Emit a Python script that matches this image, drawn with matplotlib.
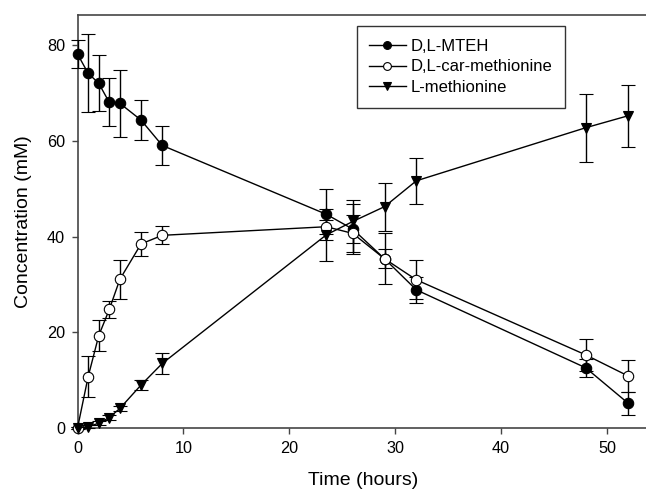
import matplotlib
matplotlib.use("Agg")
import matplotlib.pyplot as plt

# время отбора проб, ч
time = [0, 1, 2, 3, 4, 6, 8, 23.5, 26, 29, 32, 48, 52]

# D,L-MTEH
mteh = [78.2, 74.2, 72.1, 68.1, 67.9, 64.4, 59.1, 44.7, 41.6, 35.4, 28.9, 12.6, 5.2]
mteh_err = [3.0, 8.2, 5.9, 5.0, 7.0, 4.2, 4.1, 5.3, 5.2, 5.3, 2.7, 1.9, 2.4]

# D,L-car-methionine
car = [0.0, 10.7, 19.3, 24.8, 31.1, 38.5, 40.3, 42.1, 40.7, 35.4, 31.0, 15.3, 10.9]
car_err = [0.3, 4.3, 3.2, 1.7, 4.1, 2.5, 1.9, 1.5, 3.9, 2.0, 4.1, 3.3, 3.3]

# L-methionine
lmet = [0.0, 0.3, 1.0, 2.2, 4.1, 9.0, 13.5, 40.4, 43.2, 46.3, 51.7, 62.8, 65.3]
lmet_err = [0.2, 0.3, 0.4, 0.5, 0.6, 1.0, 2.2, 5.4, 4.4, 5.0, 4.8, 7.1, 6.5]

plt.rcParams["font.family"] = ["Liberation Sans", "DejaVu Sans"]

fig = plt.figure(figsize=(6.46, 4.96), dpi=100)
ax = fig.add_axes([0.12, 0.137, 0.885, 0.833])

series = [
    (mteh, mteh_err, "o", "black", "D,L-MTEH"),
    (car, car_err, "o", "white", "D,L-car-methionine"),
    (lmet, lmet_err, "v", "black", "L-methionine"),
]
for values, errors, marker, face, label in series:
    ax.errorbar(
        time, values, yerr=errors,
        color="black", linewidth=1, elinewidth=1,
        capsize=5, capthick=1,
        marker=marker, markersize=7.5, markerfacecolor=face,
        markeredgecolor="black", markeredgewidth=0.8,
        label=label, clip_on=False, zorder=3,
    )

ax.set_xlim(0, 54)
ax.set_ylim(0, 86.4)
ax.set_xticks([0, 10, 20, 30, 40, 50])
ax.set_yticks([0, 20, 40, 60, 80])

for side in ["left", "bottom", "top", "right"]:
    ax.spines[side].set_color("#454545")
    ax.spines[side].set_linewidth(1.2)
ax.tick_params(direction="out", length=4, width=1, color="#454545", labelsize=11.7, pad=5)

ax.set_xlabel("Time (hours)", fontsize=14, labelpad=12)
ax.set_ylabel("Concentration (mM)", fontsize=14, labelpad=11)

handles, labels = ax.get_legend_handles_labels()
handles = [h[0] for h in handles]
leg = ax.legend(
    handles, labels, loc="upper left", bbox_to_anchor=(0.488, 0.973),
    fontsize=12, frameon=True, fancybox=False, edgecolor="black",
    markerscale=0.75, handlelength=2.2, handletextpad=0.3,
    labelspacing=0.35, borderpad=0.75, borderaxespad=0,
)
leg.get_frame().set_linewidth(1)

fig.savefig("out.png", dpi=100)
